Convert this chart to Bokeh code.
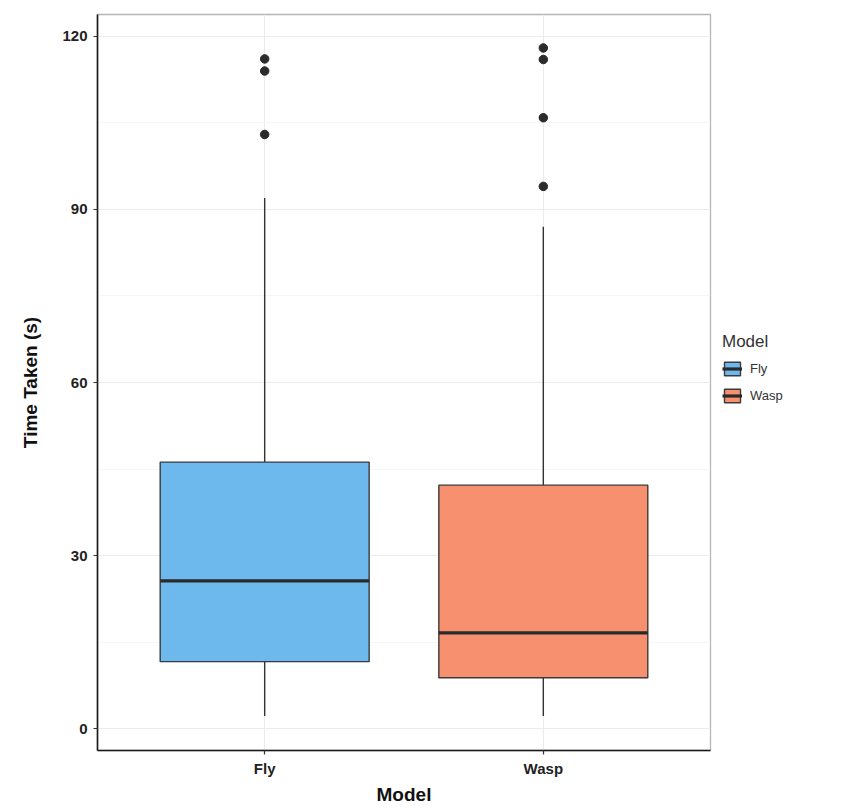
from bokeh.plotting import figure
from bokeh.models import ColumnDataSource, FixedTicker, Legend, LegendItem, Range1d
from bokeh.embed import file_html
from bokeh.resources import INLINE

# ---- data ----
models = ["Fly", "Wasp"]
q1 = [11.6, 8.8]
median = [25.6, 16.6]
q3 = [46.2, 42.2]
whisker_low = [2.2, 2.2]
whisker_high = [92.0, 87.0]
outliers_fly = [103.0, 114.0, 116.1]
outliers_wasp = [94.0, 105.9, 116.0, 118.0]
fill_colors = ["#6DB8EC", "#F7906F"]
y_ticks = [0, 30, 60, 90, 120]
y_minor = [15, 45, 75, 105]

xpos = [i + 1 for i in range(len(models))]
half = 0.375

src = ColumnDataSource(dict(
    x=xpos, left=[x - half for x in xpos], right=[x + half for x in xpos],
    q1=q1, q3=q3, med=median, lo=whisker_low, hi=whisker_high,
    color=fill_colors, model=models,
))

ox = [xpos[0]] * len(outliers_fly) + [xpos[1]] * len(outliers_wasp)
oy = outliers_fly + outliers_wasp

p = figure(frame_width=613, frame_height=736, output_backend="svg", toolbar_location=None,
           x_range=Range1d(0.4, 2.6), y_range=Range1d(-3.8, 123.8),
           min_border_left=97, min_border_right=4, min_border_top=14, min_border_bottom=46)

p.background_fill_color = "white"
p.border_fill_color = "white"
p.outline_line_color = "#b5b5b5"
p.outline_line_width = 1.3

# whiskers
p.segment(x0="x", y0="q3", x1="x", y1="hi", source=src, line_color="#333333", line_width=1.4)
p.segment(x0="x", y0="lo", x1="x", y1="q1", source=src, line_color="#333333", line_width=1.4)
# boxes
boxes = p.quad(left="left", right="right", bottom="q1", top="q3", source=src,
               fill_color="color", line_color="#3a3a3a", line_width=1.4)
# medians
meds = p.segment(x0="left", y0="med", x1="right", y1="med", source=src,
                 line_color="#2a2a2a", line_width=3.2)
# outliers
p.scatter(ox, oy, size=8.5, color="#2b2b2b")

# axes
p.xaxis.ticker = FixedTicker(ticks=xpos)
p.xaxis.major_label_overrides = {x: m for x, m in zip(xpos, models)}
p.yaxis.ticker = FixedTicker(ticks=y_ticks, minor_ticks=y_minor)

for ax in (p.xaxis[0], p.yaxis[0]):
    ax.axis_line_color = "#1a1a1a"
    ax.axis_line_width = 1.6
    ax.major_tick_line_color = "#333333"
    ax.major_tick_line_width = 1.2
    ax.major_tick_in = 0
    ax.major_tick_out = 4
    ax.minor_tick_line_color = None
    ax.major_label_text_font = "Liberation Sans"
    ax.major_label_text_font_style = "bold"
    ax.major_label_text_font_size = "15px"
    ax.major_label_text_color = "#222222"
    ax.axis_label_text_font = "Liberation Sans"
    ax.axis_label_text_font_style = "bold"
    ax.axis_label_text_font_size = "19px"
    ax.axis_label_text_color = "#111111"

p.xaxis.axis_label = "Model"
p.yaxis.axis_label = "Time Taken (s)"
p.xaxis.major_label_standoff = 5
p.yaxis.major_label_standoff = 6
p.xaxis.axis_label_standoff = 4
p.yaxis.axis_label_standoff = 18

# grid
p.xgrid.grid_line_color = "#ececec"
p.xgrid.grid_line_width = 1.1
p.ygrid.grid_line_color = "#ececec"
p.ygrid.grid_line_width = 1.1
p.ygrid.minor_grid_line_color = "#f6f6f6"
p.ygrid.minor_grid_line_width = 1.0

# legend
items = [LegendItem(label=m, renderers=[boxes, meds], index=i) for i, m in enumerate(models)]
legend = Legend(items=items, location=(12, 346), title="Model",
                title_text_font="Liberation Sans", title_text_font_size="17px",
                title_text_font_style="normal", title_text_color="#333333",
                title_standoff=8,
                label_text_font="Liberation Sans", label_text_font_size="13px",
                label_text_color="#333333", label_standoff=8,
                glyph_width=20, glyph_height=17, spacing=10, padding=2, margin=0,
                border_line_color=None, background_fill_alpha=0)
p.add_layout(legend, "right")

open("out.html", "w").write(file_html(p, INLINE))
